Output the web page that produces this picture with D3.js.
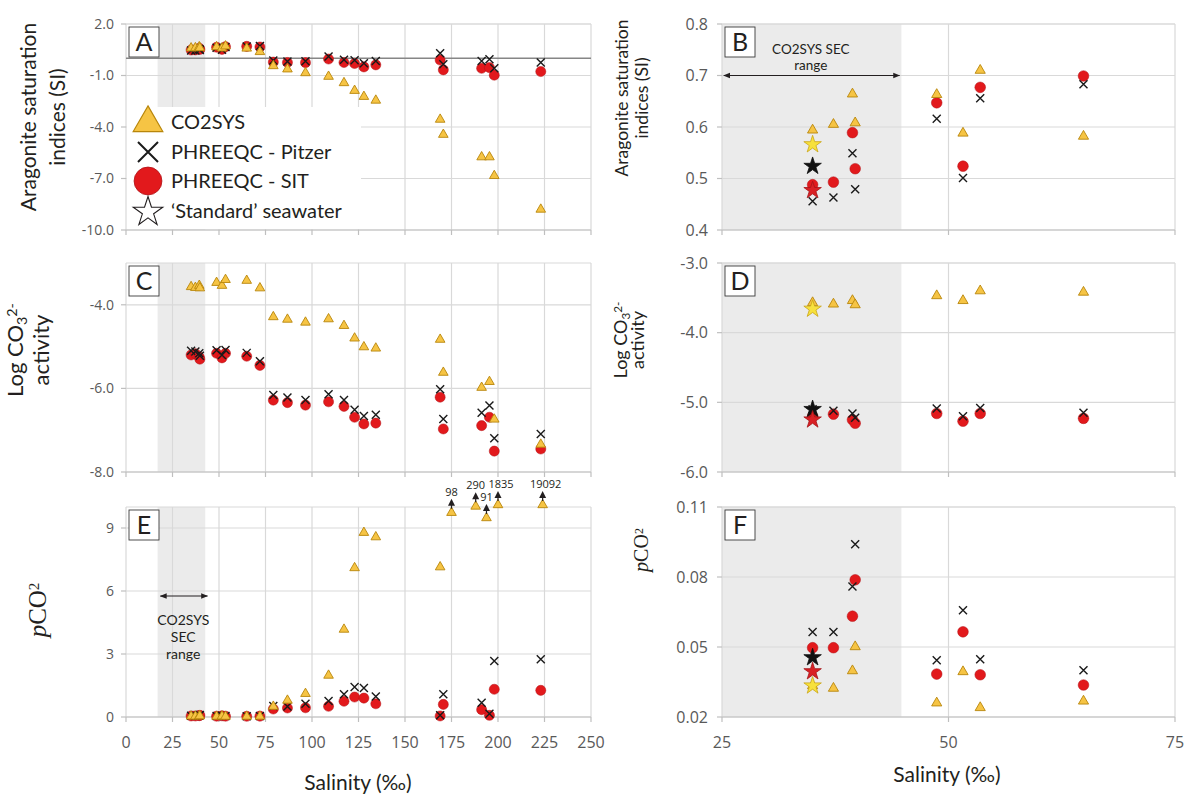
<!DOCTYPE html>
<html>
<head>
<meta charset="utf-8">
<script src="https://cdn.jsdelivr.net/npm/d3@7"></script>
<style>
body { margin: 0; background: #fff; }
svg text { font-family: "Open Sans", sans-serif; }
.ttl { font-family: Lato, sans-serif; fill: #231f20; }
.tick-lab { fill: #595959; }
</style>
</head>
<body>
<div id="chart"></div>
<script>
// Samples (salinity, per mil)
var salinity = [35, 37.3, 39.4, 39.7, 48.7, 51.6, 53.5, 64.9, 72, 79.2, 86.8, 96.5, 108.9, 117.2, 122.9, 127.9, 134.3, 168.9, 170.6, 191.2, 195.4, 198, 223];
// samples shown in the zoomed right-hand panels
var zoomIdx = [0, 1, 2, 3, 4, 5, 6, 7];

// Aragonite saturation index
var siSys = [0.594, 0.605, 0.664, 0.608, 0.663, 0.588, 0.71, 0.582, 0.38, -0.44, -0.63, -0.85, -1.06, -1.43, -1.88, -2.23, -2.45, -3.56, -4.44, -5.75, -5.75, -6.84, -8.8];
var siPitzer = [0.456, 0.463, 0.549, 0.479, 0.616, 0.501, 0.656, 0.683, 0.72, -0.13, -0.18, -0.17, 0.1, -0.08, -0.11, -0.29, -0.16, 0.3, -0.34, -0.15, -0.05, -0.58, -0.24];
var siSit = [0.488, 0.493, 0.589, 0.519, 0.647, 0.524, 0.677, 0.699, 0.66, -0.22, -0.24, -0.25, -0.04, -0.24, -0.3, -0.5, -0.38, -0.1, -0.67, -0.58, -0.54, -0.98, -0.77];

// Log CO3 2- activity
var logSys = [-3.57, -3.59, -3.54, -3.6, -3.47, -3.54, -3.4, -3.42, -3.6, -4.29, -4.35, -4.42, -4.34, -4.5, -4.8, -5.01, -5.04, -4.83, -5.62, -5.98, -5.84, -6.74, -7.34];
var logPitzer = [-5.1, -5.12, -5.16, -5.22, -5.09, -5.2, -5.08, -5.15, -5.35, -6.16, -6.22, -6.28, -6.14, -6.28, -6.51, -6.66, -6.63, -6.02, -6.73, -6.58, -6.41, -7.19, -7.09];
var logSit = [-5.2, -5.17, -5.25, -5.3, -5.16, -5.27, -5.16, -5.23, -5.45, -6.28, -6.34, -6.4, -6.32, -6.43, -6.69, -6.85, -6.83, -6.21, -6.97, -6.89, -6.69, -7.5, -7.45];

// pCO2
var pco2Sys = [0.0334, 0.0323, 0.0398, 0.0501, 0.026, 0.0394, 0.024, 0.0268, 0.03, 0.5, 0.79, 1.11, 1.98, 4.17, 7.1, 8.78, 8.57, 7.14, 98, 290, 91, 1835, 19092];
var pco2Pitzer = [0.0564, 0.0564, 0.0759, 0.094, 0.0443, 0.0657, 0.0448, 0.04, 0.05, 0.52, 0.5, 0.63, 0.76, 1.08, 1.43, 1.38, 0.98, 0.08, 1.08, 0.68, 0.16, 2.67, 2.75];
var pco2Sit = [0.0497, 0.0497, 0.0632, 0.0788, 0.0384, 0.0565, 0.0381, 0.0337, 0.04, 0.38, 0.43, 0.44, 0.51, 0.75, 0.95, 0.9, 0.63, 0.05, 0.6, 0.35, 0.08, 1.32, 1.27];
// off-scale CO2SYS pCO2 values: where they are drawn (salinity, pCO2)
var offIdx = [18, 19, 20, 21, 22];
var offShownS = [175, 188, 193.8, 200, 224];
var offShownV = [9.73, 10.03, 9.48, 10.1, 10.1];

// 'Standard' seawater: CO2SYS, Pitzer, SIT
var starSalinity = 35;
var starSI = [0.566, 0.524, 0.477];
var starLog = [-3.66, -5.1, -5.25];
var starPco2 = [0.0334, 0.0455, 0.0395];

// CO2SYS SEC range
var secLeft = [17, 42.6];
var secRight = [25, 44.8];

var leftTicksX = d3.range(0, 251, 25);
var rightTicksX = [25, 50, 75];

var legendLabels = ["CO2SYS", "PHREEQC - Pitzer", "PHREEQC - SIT", "\u2018Standard\u2019 seawater"];

// General settings
var width = 1191, height = 796;
var svg = d3.select("#chart").append("svg")
    .attr("width", width).attr("height", height)
    .style("background", "#fff");

var defs = svg.append("defs");
defs.append("marker").attr("id", "head")
    .attr("viewBox", "0 0 10 10").attr("refX", 9).attr("refY", 5)
    .attr("markerWidth", 7).attr("markerHeight", 7)
    .attr("markerUnits", "userSpaceOnUse")
    .attr("orient", "auto-start-reverse")
    .append("path").attr("d", "M0,1 L10,5 L0,9 Z").attr("fill", "#231f20");

var leftX = d3.scaleLinear().domain([0, 250]).range([126, 591]);
var rightX = d3.scaleLinear().domain([25, 75]).range([722, 1175]);
var rows = [[24, 230], [263, 472], [507, 717]];

var colSys = "#f6c444", colSysEdge = "#b8860b";
var colSit = "#e2191c";
var colGrid = "#d9d9d9";

var panels = [
    {key: "A", side: "L", row: 0, dom: [-10, 2], ticks: [2, -1, -4, -7, -10], dec: 1, sys: siSys, ptz: siPitzer, sit: siSit},
    {key: "B", side: "R", row: 0, dom: [0.4, 0.8], ticks: [0.4, 0.5, 0.6, 0.7, 0.8], dec: 1, sys: siSys, ptz: siPitzer, sit: siSit, star: starSI},
    {key: "C", side: "L", row: 1, dom: [-8, -3], ticks: [-4, -6, -8], dec: 1, sys: logSys, ptz: logPitzer, sit: logSit},
    {key: "D", side: "R", row: 1, dom: [-6, -3], ticks: [-6, -5, -4, -3], dec: 1, sys: logSys, ptz: logPitzer, sit: logSit, star: starLog},
    {key: "E", side: "L", row: 2, dom: [0, 10], ticks: [0, 3, 6, 9], dec: 0, sys: pco2Sys, ptz: pco2Pitzer, sit: pco2Sit},
    {key: "F", side: "R", row: 2, dom: [0.02, 0.11], ticks: [0.02, 0.05, 0.08, 0.11], dec: 2, sys: pco2Sys, ptz: pco2Pitzer, sit: pco2Sit, star: starPco2}
];

function crossPath(h) {
    return "M" + (-h) + "," + (-h) + "L" + h + "," + h + "M" + (-h) + "," + h + "L" + h + "," + (-h);
}

panels.forEach(function (p) {
    var left = p.side === "L";
    var x = left ? leftX : rightX;
    var y = d3.scaleLinear().domain(p.dom).range([rows[p.row][1], rows[p.row][0]]);
    var xTicks = left ? leftTicksX : rightTicksX;
    var x0 = x.range()[0], x1 = x.range()[1];
    var y0 = y.range()[0], y1 = y.range()[1];
    var g = svg.append("g").attr("class", "panel" + p.key);

    // CO2SYS SEC range shading
    var sec = left ? secLeft : secRight;
    g.append("rect")
        .attr("x", x(sec[0])).attr("width", x(sec[1]) - x(sec[0]))
        .attr("y", y1).attr("height", y0 - y1)
        .attr("fill", "#ebebeb");

    // grid
    var hLines = p.ticks.concat([p.dom[1]]);
    g.selectAll(".hg").data(hLines).join("line")
        .attr("x1", x0).attr("x2", x1)
        .attr("y1", function (d) { return y(d); }).attr("y2", function (d) { return y(d); })
        .attr("stroke", colGrid).attr("stroke-width", 1.2);
    g.selectAll(".vg").data(xTicks).join("line")
        .attr("x1", function (d) { return x(d); }).attr("x2", function (d) { return x(d); })
        .attr("y1", y1).attr("y2", y0)
        .attr("stroke", colGrid).attr("stroke-width", 1.2);

    if (p.key === "A") {
        g.append("line")
            .attr("x1", x0).attr("x2", x1).attr("y1", y(0)).attr("y2", y(0))
            .attr("stroke", "#868686").attr("stroke-width", 1.5);
        // legend box
        g.append("rect").attr("x", x0 + 1).attr("y", 107)
            .attr("width", 360 - x0).attr("height", y0 - 108)
            .attr("fill", "#fff");
    }

    // axis lines and tick marks
    g.append("line").attr("x1", x0).attr("x2", x1).attr("y1", y0).attr("y2", y0)
        .attr("stroke", "#bfbfbf").attr("stroke-width", 1.2);
    g.selectAll(".xt").data(xTicks).join("line")
        .attr("x1", function (d) { return x(d); }).attr("x2", function (d) { return x(d); })
        .attr("y1", y0).attr("y2", y0 + 5)
        .attr("stroke", "#bfbfbf").attr("stroke-width", 1.2);
    g.selectAll(".yt").data(p.ticks).join("line")
        .attr("x1", x0 - 5).attr("x2", x0)
        .attr("y1", function (d) { return y(d); }).attr("y2", function (d) { return y(d); })
        .attr("stroke", "#bfbfbf").attr("stroke-width", 1.2);

    // y tick labels
    g.selectAll(".yl").data(p.ticks).join("text")
        .attr("class", "tick-lab")
        .attr("x", x0 - (left ? 12 : 14))
        .attr("y", function (d) { return y(d); })
        .attr("dy", "0.35em")
        .attr("text-anchor", "end")
        .style("font-size", left ? "14px" : "16px")
        .text(function (d) { return d.toFixed(p.dec); });

    // x tick labels on bottom row
    if (p.row === 2) {
        g.selectAll(".xl").data(xTicks).join("text")
            .attr("class", "tick-lab")
            .attr("x", function (d) { return x(d); })
            .attr("y", 748)
            .attr("text-anchor", "middle")
            .style("font-size", "16px")
            .text(function (d) { return d; });
    }

    // points
    var idx = left ? d3.range(salinity.length) : zoomIdx;
    var isE = p.key === "E";
    var small = left ? 1 : 1.12;
    var circleSym = d3.symbol(d3.symbolCircle, 80 * small)();
    var triSym = d3.symbol(d3.symbolTriangle, 40 * small)();

    g.selectAll(".sit").data(idx).join("path")
        .attr("d", circleSym)
        .attr("transform", function (i) { return "translate(" + x(salinity[i]) + "," + y(p.sit[i]) + ")"; })
        .attr("fill", colSit).attr("stroke", "#b01216").attr("stroke-width", 0.5);

    g.selectAll(".ptz").data(idx).join("path")
        .attr("d", crossPath(4))
        .attr("transform", function (i) { return "translate(" + x(salinity[i]) + "," + y(p.ptz[i]) + ")"; })
        .attr("fill", "none").attr("stroke", "#1a1a1a").attr("stroke-width", 1.4);

    g.selectAll(".sys").data(idx).join("path")
        .attr("d", triSym)
        .attr("transform", function (i) {
            var k = isE ? offIdx.indexOf(i) : -1;
            var sx = k >= 0 ? offShownS[k] : salinity[i];
            var sv = k >= 0 ? offShownV[k] : p.sys[i];
            return "translate(" + x(sx) + "," + y(sv) + ")";
        })
        .attr("fill", colSys).attr("stroke", colSysEdge).attr("stroke-width", 0.9);

    // off-scale arrows in E
    if (isE) {
        offIdx.forEach(function (i, k) {
            var cx = x(offShownS[k]), cy = y(offShownV[k]);
            g.append("line").attr("x1", cx).attr("x2", cx).attr("y1", cy - 4).attr("y2", cy - 8)
                .attr("stroke", "#231f20").attr("stroke-width", 1.2);
            g.append("path")
                .attr("d", "M" + (cx - 3.5) + "," + (cy - 7) + "L" + cx + "," + (cy - 14) + "L" + (cx + 3.5) + "," + (cy - 7) + "Z")
                .attr("fill", "#231f20");
            g.append("text").attr("x", cx + (k >= 3 ? 3 : 0)).attr("y", cy - 17)
                .attr("text-anchor", "middle")
                .style("font-size", "11px").attr("fill", "#231f20")
                .text(pco2Sys[i]);
        });
    }

    // 'Standard' seawater stars
    if (p.star) {
        var starSym = d3.symbol(d3.symbolStar, 95)();
        var starFill = ["#f7e13c", "#111111", "#d92024"];
        var starEdge = ["#c9a516", "#111111", "#a51418"];
        g.selectAll(".star").data(p.star).join("path")
            .attr("d", starSym)
            .attr("transform", function (d) { return "translate(" + x(starSalinity) + "," + y(d) + ")"; })
            .attr("fill", function (d, i) { return starFill[i]; })
            .attr("stroke", function (d, i) { return starEdge[i]; })
            .attr("stroke-width", 0.8);
    }

    // panel letter
    g.append("rect").attr("x", x0 + 3).attr("y", y1 + 3).attr("width", 30).attr("height", 30)
        .attr("fill", "#fff").attr("stroke", "#3a3a3a").attr("stroke-width", 0.9);
    g.append("text").attr("class", "ttl")
        .attr("x", x0 + 18).attr("y", y1 + 27)
        .attr("text-anchor", "middle").style("font-size", "25px")
        .text(p.key);
});

// SEC range annotations
function doubleArrow(xa, xb, yy) {
    svg.append("line").attr("x1", xa).attr("x2", xb).attr("y1", yy).attr("y2", yy)
        .attr("stroke", "#231f20").attr("stroke-width", 1.1)
        .attr("marker-start", "url(#head)").attr("marker-end", "url(#head)");
}
var yB = d3.scaleLinear().domain([0.4, 0.8]).range([rows[0][1], rows[0][0]]);
doubleArrow(rightX(25.2), rightX(44.6), yB(0.7));
svg.append("text").attr("class", "ttl").attr("x", rightX(34.8)).attr("y", 54)
    .attr("text-anchor", "middle").style("font-size", "13.5px").attr("fill", "#333")
    .text("CO2SYS SEC");
svg.append("text").attr("class", "ttl").attr("x", rightX(34.8)).attr("y", 70)
    .attr("text-anchor", "middle").style("font-size", "13.5px").attr("fill", "#333")
    .text("range");

var yE = d3.scaleLinear().domain([0, 10]).range([rows[2][1], rows[2][0]]);
doubleArrow(leftX(18.5), leftX(43.8), yE(5.76));
["CO2SYS", "SEC", "range"].forEach(function (t, i) {
    svg.append("text").attr("class", "ttl").attr("x", leftX(30.8)).attr("y", 625 + i * 17)
        .attr("text-anchor", "middle").style("font-size", "14px").attr("fill", "#333")
        .text(t);
});

// legend in A
var legendG = svg.append("g");
var legY = [122, 152, 181, 211];
legendG.append("path").attr("d", d3.symbol(d3.symbolTriangle, 380)())
    .attr("transform", "translate(148," + (legY[0] + 1) + ")")
    .attr("fill", colSys).attr("stroke", colSysEdge).attr("stroke-width", 1.2);
legendG.append("path").attr("d", crossPath(10))
    .attr("transform", "translate(148," + legY[1] + ")")
    .attr("fill", "none").attr("stroke", "#1a1a1a").attr("stroke-width", 2);
legendG.append("path").attr("d", d3.symbol(d3.symbolCircle, 610)())
    .attr("transform", "translate(148," + legY[2] + ")")
    .attr("fill", colSit).attr("stroke", "#b01216").attr("stroke-width", 0.8);
legendG.append("path").attr("d", d3.symbol(d3.symbolStar, 270)())
    .attr("transform", "translate(148," + (legY[3] + 1) + ")")
    .attr("fill", "#fff").attr("stroke", "#231f20").attr("stroke-width", 1.1);
legendG.selectAll("text").data(legendLabels).join("text")
    .attr("class", "ttl")
    .attr("x", 171).attr("y", function (d, i) { return legY[i] + 7; })
    .style("font-size", "20px")
    .text(function (d) { return d; });

// axis titles
function vTitle(lines, xs, cy, size) {
    lines.forEach(function (t, i) {
        var el = svg.append("text").attr("class", "ttl")
            .attr("transform", "translate(" + xs[i] + "," + cy + ") rotate(-90)")
            .attr("text-anchor", "middle").style("font-size", size + "px");
        if (typeof t === "string") el.text(t); else t(el);
    });
}
function logCO3(el) {
    el.append("tspan").text("Log CO");
    el.append("tspan").attr("dy", "0.25em").style("font-size", "0.65em").text("3");
    el.append("tspan").attr("dy", "-0.65em").style("font-size", "0.65em").text("2-");
}
function pco2(el) {
    el.style("font-family", "'Liberation Serif', 'DejaVu Serif', serif");
    el.append("tspan").style("font-style", "italic").text("p");
    el.append("tspan").text("CO");
    el.append("tspan").attr("dy", "-0.45em").style("font-size", "0.6em").text("2");
}
vTitle(["Aragonite saturation", "indices (SI)"], [36, 65], 117, 21);
vTitle([logCO3, "activity"], [23, 49], 350, 22);
vTitle([pco2], [46], 610, 25);
vTitle(["Aragonite saturation", "indices (SI)"], [628, 648], 98, 17.5);
vTitle([logCO3, "activity"], [627, 644], 340, 18);
vTitle([pco2], [648], 550, 20);

svg.append("text").attr("class", "ttl").attr("x", 358).attr("y", 790)
    .attr("text-anchor", "middle").style("font-size", "21px").text("Salinity (\u2030)");
svg.append("text").attr("class", "ttl").attr("x", 947).attr("y", 782)
    .attr("text-anchor", "middle").style("font-size", "21px").text("Salinity (\u2030)");
</script>
</body>
</html>
